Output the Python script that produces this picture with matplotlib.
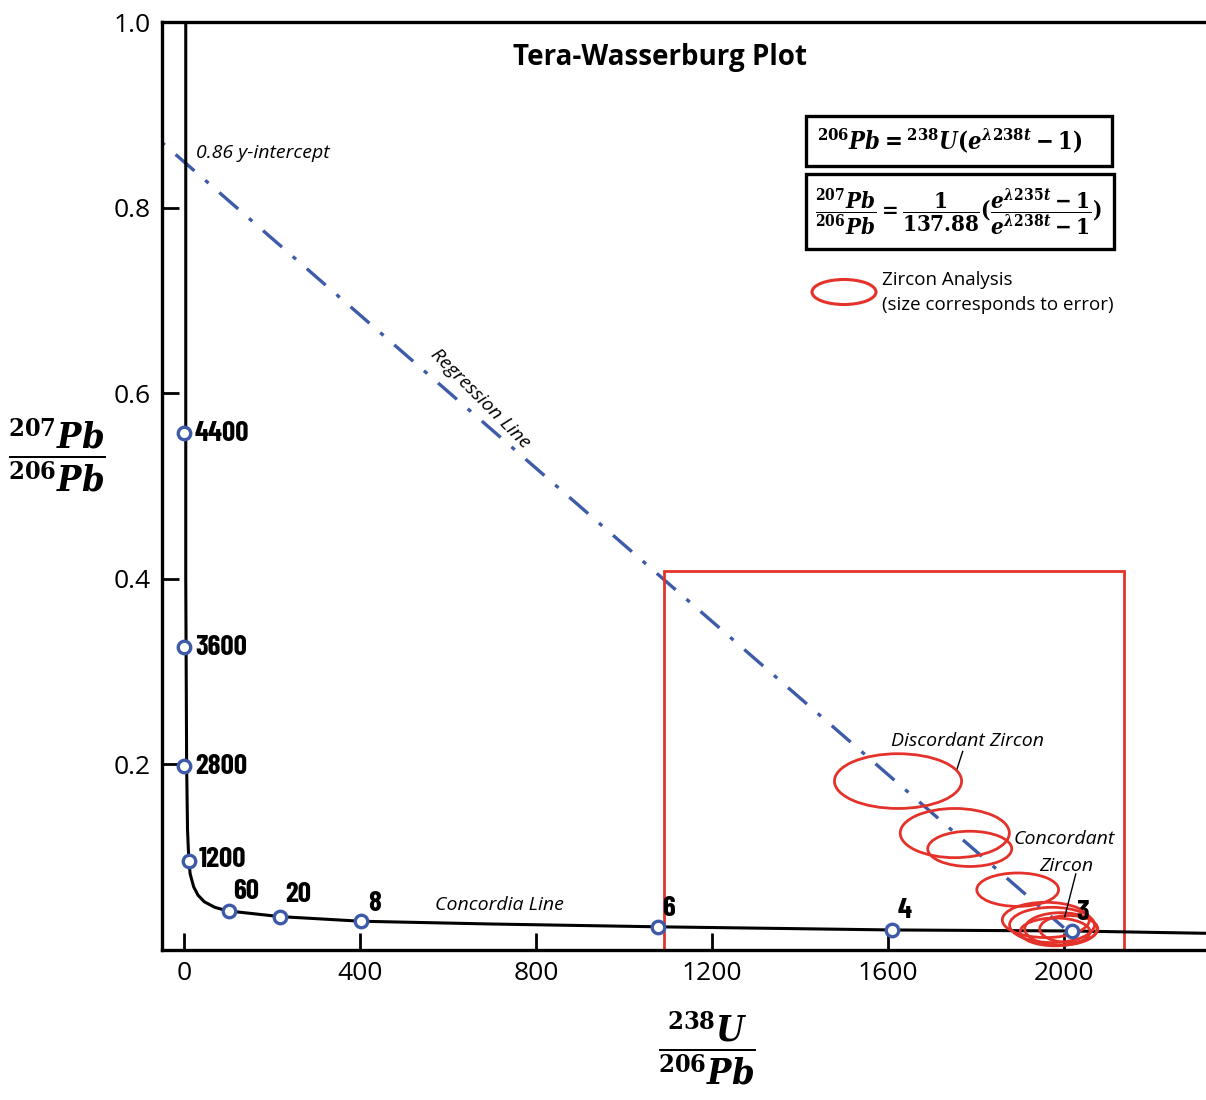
import matplotlib
matplotlib.use("Agg")
import matplotlib.pyplot as plt
from matplotlib.patches import Ellipse, Rectangle

plt.rcParams['font.family'] = ['Open Sans', 'DejaVu Sans']
plt.rcParams['mathtext.fontset'] = 'custom'
plt.rcParams['mathtext.it'] = 'DejaVu Serif:style=italic:weight=bold:stretch=condensed'
plt.rcParams['mathtext.rm'] = 'DejaVu Serif:weight=bold:stretch=condensed'
plt.rcParams['mathtext.bf'] = 'DejaVu Serif:weight=bold:stretch=condensed'

# concordia curve
concordia_x = [4, 4, 4, 5, 6, 8, 11, 14, 22, 32, 46, 70, 85, 102, 218, 402, 700, 1077, 1609, 2018, 2323]
concordia_y = [1.0, 0.6, 0.4, 0.3, 0.2, 0.13, 0.096, 0.082, 0.068, 0.059, 0.052, 0.046, 0.044,
               0.042, 0.036, 0.031, 0.028, 0.025, 0.0216, 0.0205, 0.018]

# labelled points on the concordia
age_labels = ['4400', '3600', '2800', '1200', '60', '20', '8', '6', '4', '3']
age_x = [0, 0, 0, 11, 102, 218, 402, 1077, 1609, 2018]
age_y = [0.557, 0.326, 0.198, 0.096, 0.042, 0.036, 0.031, 0.025, 0.0216, 0.0205]

# regression line
reg_x = [-50, 2000]
reg_y = [0.870, 0.024]

# zircon analyses: centre, width, height
zircon_x = [1623, 1752, 1786, 1895, 1959, 1973, 1993, 1980, 2011]
zircon_y = [0.182, 0.126, 0.109, 0.065, 0.0324, 0.027, 0.0227, 0.0195, 0.0227]
zircon_w = [289, 248, 191, 186, 198, 193, 164, 159, 132]
zircon_h = [0.059, 0.053, 0.038, 0.036, 0.038, 0.038, 0.035, 0.030, 0.029]

# highlighted area [x0, x1, y0, y1]
zoom_box = [1091, 2136, 0, 0.408]

x_ticks = [0, 400, 800, 1200, 1600, 2000]
y_ticks = [0.2, 0.4, 0.6, 0.8, 1.0]

blue = '#3d5ba9'
red = '#e4322b'

fig = plt.figure(figsize=(12.06, 11.0), dpi=100)
ax = fig.add_axes([162 / 1206, 1 - 950 / 1100, 1 - 162 / 1206, (950 - 22) / 1100])

ax.plot(concordia_x, concordia_y, color='black', lw=2.2, zorder=3)
ax.plot(reg_x, reg_y, color=blue, lw=2.4, ls=(12, (7.5, 4.3, 1.3, 4.3)), zorder=2)

r = Rectangle((zoom_box[0], zoom_box[2]), zoom_box[1] - zoom_box[0], zoom_box[3] - zoom_box[2],
              fill=False, ec=red, lw=2.0, zorder=2, clip_on=False)
ax.add_patch(r)

for cx, cy, w, h in zip(zircon_x, zircon_y, zircon_w, zircon_h):
    ax.add_patch(Ellipse((cx, cy), w, h, fill=False, ec=red, lw=2.0, zorder=4))

ax.plot(age_x, age_y, 'o', ms=9, mfc='white', mec=blue, mew=2.4, zorder=5)

# label offsets in points
offs = [(8, 0), (8, 0), (8, 0), (7, 1), (3, 14), (4, 16), (5, 13), (3, 13), (4, 14), (3, 13)]
for lab, x, y, (dx, dy) in zip(age_labels, age_x, age_y, offs):
    ax.annotate(lab, (x, y), xytext=(dx, dy), textcoords='offset points',
                ha='left', va='center', fontsize=21, fontweight='bold',
                family=['Barlow Condensed', 'DejaVu Sans'], zorder=6)

ax.text(27, 0.859, '0.86 y-intercept', fontsize=14, style='italic', ha='left', va='center')
ax.text(673, 0.594, 'Regression Line', fontsize=14, style='italic', ha='center', va='center',
        rotation=-45)
ax.text(718, 0.049, 'Concordia Line', fontsize=14, style='italic', ha='center', va='center')
ax.text(1782, 0.225, 'Discordant Zircon', fontsize=14, style='italic', ha='center', va='center')
ax.text(2000, 0.120, 'Concordant', fontsize=14, style='italic', ha='center', va='center')
ax.text(2005, 0.091, 'Zircon', fontsize=14, style='italic', ha='center', va='center')
ax.plot([1770, 1757], [0.214, 0.195], color='black', lw=1)
ax.plot([2027, 2002], [0.082, 0.036], color='black', lw=1, zorder=6)

ax.text(1082, 0.962, 'Tera-Wasserburg Plot', fontsize=20, fontweight='bold',
        ha='center', va='center')

ax.set_xlim(-50, 2323)
ax.set_ylim(0, 1.0)
ax.set_xticks(x_ticks)
ax.set_yticks(y_ticks)
ax.set_yticklabels(['0.2', '0.4', '0.6', '0.8', '1.0'])
ax.tick_params(direction='in', length=12, width=2, labelsize=19, pad=8)
ax.spines['right'].set_visible(False)
for s in ['left', 'top', 'bottom']:
    ax.spines[s].set_linewidth(2.4)

# axis labels as fractions
fig.text(57 / 1206, 1 - 455 / 1100, r'$\dfrac{^{207}Pb}{^{206}Pb}$', fontsize=26,
         ha='center', va='center')
fig.text(707 / 1206, 1 - 1048 / 1100, r'$\dfrac{^{238}U}{^{206}Pb}$', fontsize=26,
         ha='center', va='center')

# equation boxes
for (x0, y0, x1, y1) in [(806, 116, 1112, 166), (806, 174, 1114, 249)]:
    fig.add_artist(Rectangle((x0 / 1206, 1 - y1 / 1100), (x1 - x0) / 1206, (y1 - y0) / 1100,
                             fill=False, ec='black', lw=2.4, transform=fig.transFigure))
fig.text(950 / 1206, 1 - 142 / 1100, r'$^{206}Pb = {^{238}}U(e^{\lambda 238t} - 1)$',
         fontsize=17, ha='center', va='center')
fig.text(958 / 1206, 1 - 212 / 1100,
         r'$\dfrac{^{207}Pb}{^{206}Pb} = \dfrac{1}{137.88}(\dfrac{e^{\lambda 235t} - 1}{e^{\lambda 238t} - 1})$',
         fontsize=16, ha='center', va='center')

# legend
fig.add_artist(Ellipse((844 / 1206, 1 - 292 / 1100), 64 / 1206, 25 / 1100, fill=False,
                       ec=red, lw=2.2, transform=fig.transFigure))
fig.text(882 / 1206, 1 - 280 / 1100, 'Zircon Analysis', fontsize=13.5, ha='left', va='center')
fig.text(882 / 1206, 1 - 305 / 1100, '(size corresponds to error)', fontsize=13.5,
         ha='left', va='center')

fig.savefig('out.png', dpi=100)
